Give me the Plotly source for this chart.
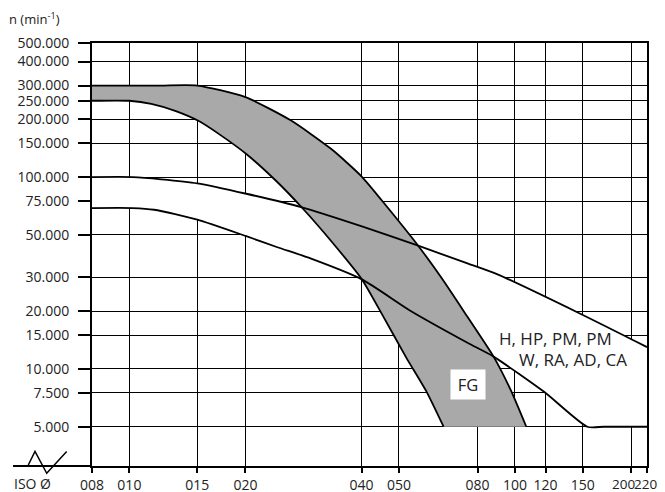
import math
import plotly.graph_objects as go

# ---- data ----
x_ticks = [8, 10, 15, 20, 40, 50, 80, 100, 120, 150, 200, 220]
x_tick_text = ["008", "010", "015", "020", "040", "050", "080", "100", "120", "150", "200", "220"]
y_ticks = [5000, 7500, 10000, 15000, 20000, 30000, 50000, 75000, 100000,
           150000, 200000, 250000, 300000, 400000, 500000]
y_tick_text = ["5.000", "7.500", "10.000", "15.000", "20.000", "30.000", "50.000", "75.000",
               "100.000", "150.000", "200.000", "250.000", "300.000", "400.000", "500.000"]

fg_upper_x = [8, 12, 15, 20, 26.2, 33.4, 40.1, 46.8, 56.1, 64.6, 75.3, 88.0, 97.4, 107]
fg_upper_y = [300000, 300000, 300000, 261000, 197700, 140000, 100400, 69200, 43900,
              29700, 18700, 11600, 7800, 5000]

fg_lower_x = [8, 10, 11.4, 13.2, 15.1, 17.2, 20.1, 24.0, 28.2, 33.4, 40.1, 45.6, 52.2, 59.0, 65.3]
fg_lower_y = [250000, 250000, 241000, 221000, 196500, 166000, 132000, 95700, 68400,
              46300, 29300, 18700, 11500, 7600, 5000]

h_x = [8, 10.2, 12.1, 15.0, 20.1, 27.9, 40.1, 56.1, 75.3, 90.1, 147.7, 220]
h_y = [100000, 100000, 97400, 92800, 81900, 69700, 55300, 43900, 35500, 31100, 19400, 13000]

w_x = [8, 10.2, 11.6, 15.0, 20.1, 24.2, 29.6, 40.1, 53.8, 75.3, 88.0, 119, 154, 170, 220]
w_y = [69000, 69000, 67600, 60000, 49200, 43100, 37600, 29300, 20000, 13700, 11600, 7600,
       5000, 5000, 5000]

label_upper = "H, HP, PM, PM"
label_lower = "W, RA, AD, CA"
label_fg = "FG"

# ---- figure ----
FONT = "Open Sans"
TXT = "#222222"
SM = 0.6
fig = go.Figure()

# white band between H and W curves (covers grid)
fig.add_trace(go.Scatter(x=w_x, y=w_y, mode="lines", line=dict(width=0, shape="spline", smoothing=SM),
                         hoverinfo="skip"))
fig.add_trace(go.Scatter(x=h_x, y=h_y, mode="lines", line=dict(width=0, shape="spline", smoothing=SM),
                         fill="tonexty", fillcolor="white", hoverinfo="skip"))
# grey FG band
fig.add_trace(go.Scatter(x=fg_lower_x, y=fg_lower_y, mode="lines",
                         line=dict(width=0, shape="spline", smoothing=SM), hoverinfo="skip"))
fig.add_trace(go.Scatter(x=fg_upper_x, y=fg_upper_y, mode="lines",
                         line=dict(width=0, shape="spline", smoothing=SM),
                         fill="tonexty", fillcolor="#a9a9a9", hoverinfo="skip"))
# outline curves
for xs, ys in [(h_x, h_y), (w_x, w_y), (fg_upper_x, fg_upper_y), (fg_lower_x, fg_lower_y)]:
    fig.add_trace(go.Scatter(x=xs, y=ys, mode="lines",
                             line=dict(color="black", width=1.8, shape="spline", smoothing=SM)))

# the page body adds an 8px offset, so the figure is 8px smaller and margins shifted
fig.update_layout(
    width=657, height=484,
    margin=dict(l=84, r=18, t=35, b=26, autoexpand=False),
    paper_bgcolor="white", plot_bgcolor="white",
    showlegend=False,
    font=dict(family=FONT, size=14, color=TXT),
)
# the two right-most labels (200, 220) sit too close for centred tick labels;
# they are drawn as annotations nudged apart, like the reference
axis_text = x_tick_text[:-2] + ["", ""]
fig.update_xaxes(
    type="log", range=[math.log10(8), math.log10(220)],
    tickmode="array", tickvals=x_ticks, ticktext=axis_text, tickangle=0,
    showgrid=True, gridcolor="black", gridwidth=1,
    showline=True, linecolor="black", linewidth=2, mirror=True,
    ticks="outside", ticklen=5, tickwidth=1.5, tickcolor="black",
    zeroline=False, ticklabeloverflow="allow", automargin=False,
    tickfont=dict(family=FONT, size=14, color=TXT),
)
fig.update_yaxes(
    type="log", range=[3.4943, math.log10(500000)],
    tickmode="array", tickvals=y_ticks, ticktext=y_tick_text,
    showgrid=True, gridcolor="black", gridwidth=1,
    showline=True, linecolor="black", linewidth=2, mirror=True,
    ticks="outside", ticklen=12, tickwidth=1.5, tickcolor="black",
    zeroline=False, ticklabelstandoff=6, automargin=False,
    tickfont=dict(family=FONT, size=14, color=TXT),
)

LABEL_Y = -0.0420
fig.add_annotation(text=x_tick_text[-2], xref="paper", yref="paper", x=0.9580, y=LABEL_Y,
                   xanchor="center", yanchor="middle", showarrow=False,
                   font=dict(family=FONT, size=13.5, color=TXT))
fig.add_annotation(text=x_tick_text[-1], xref="paper", yref="paper", x=1.0216, y=LABEL_Y,
                   xanchor="right", yanchor="middle", showarrow=False,
                   font=dict(family=FONT, size=13.5, color=TXT))

# axis extension to the left and break symbol
fig.add_shape(type="line", xref="paper", yref="paper", x0=-0.1423, x1=0, y0=0, y1=0,
              line=dict(color="black", width=2))
fig.add_shape(type="path", xref="paper", yref="paper",
              path="M -0.1148,0.0024 L -0.1027,0.0343 L -0.0816,-0.0173 L -0.0456,0.0343",
              line=dict(color="black", width=1.5))

fig.add_annotation(text="ISO Ø", xref="paper", yref="paper", x=-0.107, y=LABEL_Y,
                   xanchor="center", yanchor="middle", showarrow=False,
                   font=dict(family=FONT, size=14, color=TXT))
fig.add_annotation(text="n (min<sup>-1</sup>)", xref="paper", yref="paper", x=-0.1036, y=1.059,
                   xanchor="center", yanchor="middle", showarrow=False,
                   font=dict(family=FONT, size=13, color=TXT))
fig.add_annotation(text=label_upper, xref="paper", yref="paper", x=0.7292, y=0.3019,
                   xanchor="left", yanchor="middle", showarrow=False,
                   font=dict(family=FONT, size=17, color=TXT))
fig.add_annotation(text=label_lower, xref="paper", yref="paper", x=0.7652, y=0.2506,
                   xanchor="left", yanchor="middle", showarrow=False,
                   font=dict(family=FONT, size=17, color=TXT))
fig.add_annotation(text=label_fg, xref="paper", yref="paper", x=0.6766, y=0.1915,
                   xanchor="center", yanchor="middle", showarrow=False,
                   bgcolor="white", width=32, height=27,
                   font=dict(family=FONT, size=16.5, color=TXT))

fig.write_html("out.html")
